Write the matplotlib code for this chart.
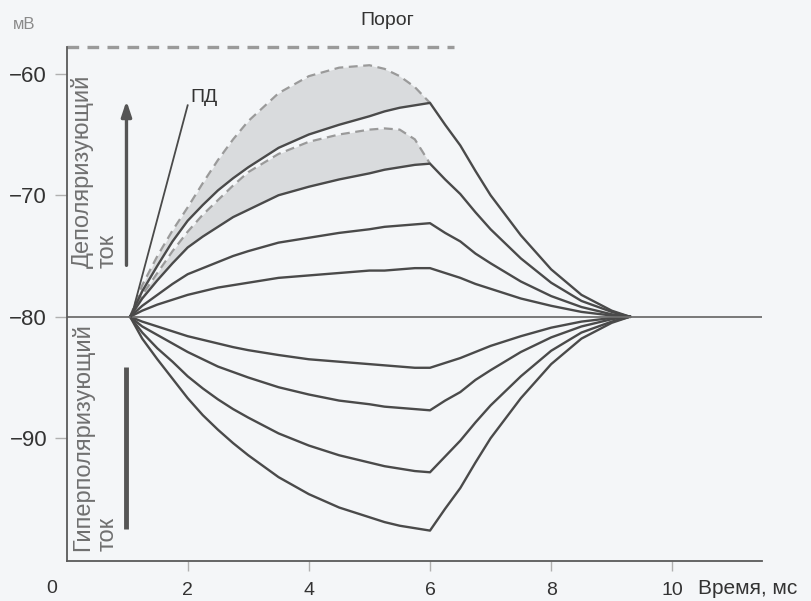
import matplotlib.pyplot as plt
import matplotlib.transforms as mtransforms

plt.rcParams['font.family'] = ['Liberation Sans', 'DejaVu Sans']

# time points (ms)
t_rise = [1.05, 1.25, 1.5, 1.75, 2, 2.25, 2.5, 2.75, 3, 3.5, 4, 4.5, 5, 5.25, 5.5, 5.75, 6]
t_fall = [6, 6.25, 6.5, 6.75, 7, 7.5, 8, 8.5, 9, 9.3]

# membrane potential (mV), depolarizing pulses
dep_rise = [
    [-80, -77.9, -75.8, -73.8, -72.1, -70.8, -69.6, -68.6, -67.7, -66.1, -65.0, -64.2, -63.5, -63.1, -62.8, -62.6, -62.4],
    [-80, -78.5, -77.0, -75.6, -74.3, -73.4, -72.6, -71.8, -71.2, -70.0, -69.3, -68.7, -68.2, -67.9, -67.7, -67.5, -67.4],
    [-80, -79.1, -78.2, -77.3, -76.5, -76.0, -75.5, -75.0, -74.6, -73.9, -73.5, -73.1, -72.8, -72.6, -72.5, -72.4, -72.3],
    [-80, -79.5, -79.0, -78.6, -78.2, -77.9, -77.6, -77.4, -77.2, -76.8, -76.6, -76.4, -76.2, -76.2, -76.1, -76.0, -76.0],
]
dep_fall = [
    [-62.4, -64.2, -65.9, -68.0, -70.0, -73.3, -76.1, -78.2, -79.5, -80],
    [-67.4, -68.7, -69.9, -71.4, -72.8, -75.2, -77.2, -78.7, -79.6, -80],
    [-72.3, -73.1, -73.8, -74.8, -75.6, -77.1, -78.3, -79.2, -79.8, -80],
    [-76.0, -76.4, -76.8, -77.3, -77.7, -78.5, -79.1, -79.6, -79.9, -80],
]
# hyperpolarizing pulses
hyp_rise = [
    [-80, -80.4, -80.8, -81.2, -81.6, -81.9, -82.2, -82.5, -82.75, -83.15, -83.5, -83.7, -83.9, -84.0, -84.1, -84.2, -84.2],
    [-80, -80.8, -81.5, -82.2, -82.9, -83.5, -84.1, -84.55, -85.0, -85.8, -86.4, -86.9, -87.2, -87.4, -87.5, -87.6, -87.7],
    [-80, -81.3, -82.6, -83.7, -84.9, -85.9, -86.8, -87.6, -88.3, -89.6, -90.6, -91.4, -92.0, -92.3, -92.5, -92.7, -92.8],
    [-80, -81.8, -83.5, -85.1, -86.7, -88.1, -89.3, -90.4, -91.4, -93.2, -94.6, -95.7, -96.5, -96.9, -97.2, -97.4, -97.6],
]
hyp_fall = [
    [-84.2, -83.8, -83.4, -82.9, -82.4, -81.6, -80.9, -80.4, -80.1, -80],
    [-87.7, -86.9, -86.2, -85.2, -84.4, -82.9, -81.7, -80.8, -80.2, -80],
    [-92.8, -91.5, -90.2, -88.7, -87.3, -84.9, -82.8, -81.3, -80.4, -80],
    [-97.6, -95.8, -94.1, -92.0, -90.0, -86.7, -83.9, -81.8, -80.5, -80],
]
# local responses (dashed) above the two strongest depolarizations
local_resp = [
    [-80, -77.4, -75.0, -72.9, -71.0, -69.0, -67.1, -65.4, -63.9, -61.6, -60.2, -59.5, -59.3, -59.6, -60.2, -61.1, -62.4],
    [-80, -78.2, -76.4, -74.6, -73.0, -71.6, -70.4, -69.2, -68.1, -66.6, -65.6, -65.0, -64.6, -64.5, -64.6, -65.4, -67.4],
]
threshold = -57.8
rest = -80
ap_x = [1.07, 2.0]
ap_y = [-80, -62.6]

line_col = '#4a4a4a'

fig = plt.figure(figsize=(8.12, 6.01), dpi=100, facecolor='#f4f6f8')
ax = fig.add_axes([0.0819, 0.0666, 0.8565, 0.8552])
ax.set_facecolor('none')

# shaded local responses
for i in range(2):
    ax.fill_between(t_rise, dep_rise[i], local_resp[i], color='#d9dbdd', lw=0)
    ax.plot(t_rise, local_resp[i], color='#9a9a9a', lw=1.6, ls=(0, (4, 2.5)))

for r, f in zip(dep_rise + hyp_rise, dep_fall + hyp_fall):
    ax.plot(t_rise + t_fall[1:], r + f[1:], color=line_col, lw=1.7,
            solid_joinstyle='round')

# resting potential line and threshold
ax.axhline(rest, color='#6e6e6e', lw=1.3)
ax.plot([0, 6.4], [threshold, threshold], color='#9a9a9a', lw=2.4,
        ls=(0, (3.5, 2.5)), clip_on=False)

# action potential
ax.plot(ap_x, ap_y, color=line_col, lw=1.3)
ax.text(2.05, -62.3, 'ПД', fontsize=14, color='#333333', va='baseline')

# current arrows
ax.annotate('', xy=(0.99, -62.0), xytext=(0.99, -76.0),
            arrowprops=dict(arrowstyle='-|>,head_length=0.9,head_width=0.3',
                            color='#555555', lw=2.4))
ax.plot([0.99, 0.99], [-84.1, -97.5], color='#555555', lw=3.5, solid_capstyle='butt')

ax.text(0.47, -76.0, 'Деполяризующий\nток', rotation=90, fontsize=17,
        color='#707070', ha='center', va='bottom', multialignment='left',
        linespacing=1.15)
ax.text(0.47, -99.3, 'Гиперполяризующий\nток', rotation=90, fontsize=17,
        color='#707070', ha='center', va='bottom', multialignment='left',
        linespacing=1.15)

ax.set_xlim(0, 11.48)
ax.set_ylim(-100.1, threshold)
for s in ['top', 'right']:
    ax.spines[s].set_visible(False)
for s in ['left', 'bottom']:
    ax.spines[s].set_color('#5a5a5a')
    ax.spines[s].set_linewidth(1.3)

ax.set_yticks([-60, -70, -80, -90])
ax.set_yticklabels(['−60', '−70', '−80', '−90'])
ax.set_xticks([2, 4, 6, 8, 10])
ax.tick_params(axis='y', direction='out', length=9, width=1, color='#b0b0b0',
               labelsize=16, labelcolor='#333333', pad=5)
ax.tick_params(axis='x', direction='out', length=7, width=1, color='#b0b0b0',
               labelsize=14, labelcolor='#333333', pad=8)

trans = mtransforms.blended_transform_factory(ax.transData, ax.transAxes)
ax.text(-0.24, -0.0545, '0', transform=trans, fontsize=14, color='#333333',
        ha='center', va='center')
ax.text(10.42, -0.0545, 'Время, мс', transform=trans, fontsize=15, color='#333333',
        ha='left', va='center')
ax.text(-0.7, 1.043, 'мВ', transform=trans, fontsize=12, color='#8a8a8a',
        ha='center', va='center')
ax.text(5.3, 1.052, 'Порог', transform=trans, fontsize=14, color='#333333',
        ha='center', va='center')

plt.savefig('out.png', dpi=100, facecolor=fig.get_facecolor())
